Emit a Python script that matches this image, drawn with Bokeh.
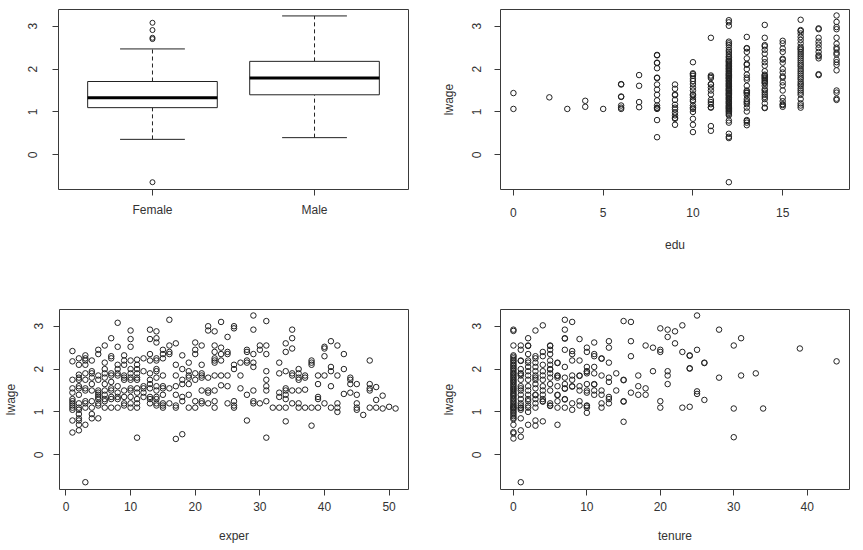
from bokeh.plotting import figure
from bokeh.layouts import column, row
from bokeh.models import Range1d, FixedTicker
from bokeh.embed import file_html
from bokeh.resources import INLINE

# ---------------- data ----------------
box_labels = ["Female", "Male"]
box_pos = [1, 2]
box_lo = [0.36, 0.40]
box_q1 = [1.10, 1.40]
box_med = [1.33, 1.79]
box_q3 = [1.71, 2.18]
box_hi = [2.47, 3.24]
out_group = [1, 1, 1, 1, 1]
out_lwage = [3.08, 2.91, 2.73, 2.70, -0.64]

lwage_by_edu = {
    0: [1.44, 1.07],
    2: [1.34],
    3: [1.07],
    4: [1.26, 1.12],
    5: [1.07],
    6: [1.65, 1.64, 1.36, 1.35, 1.15, 1.10, 1.07],
    7: [1.86, 1.61, 1.23, 1.11],
    8: [2.33, 2.32, 2.15, 2.14, 2.02, 1.80, 1.79, 1.64, 1.52, 1.40, 1.27, 1.15,
        1.10, 1.09, 1.07, 0.81, 0.41],
    9: [1.64, 1.54, 1.41, 1.39, 1.28, 1.17, 1.10, 1.06, 0.99, 0.92, 0.86, 0.84, 0.70],
    10: [2.16, 1.90, 1.88, 1.84, 1.77, 1.72, 1.65, 1.57, 1.50, 1.41, 1.39, 1.34,
         1.28, 1.25, 1.15, 1.10, 1.07, 1.00, 0.84, 0.70, 0.53],
    11: [2.73, 1.85, 1.82, 1.79, 1.65, 1.64, 1.57, 1.50, 1.41, 1.28, 1.23, 1.18,
         1.11, 1.10, 0.67, 0.56],
    12: [3.14, 3.09, 3.01, 2.64, 2.60, 2.56, 2.50, 2.44, 2.40, 2.35, 2.30, 2.27,
         2.23, 2.20, 2.18, 2.16, 2.13, 2.10, 2.08, 2.06, 2.03, 2.01, 1.99, 1.96,
         1.94, 1.91, 1.89, 1.87, 1.85, 1.83, 1.80, 1.79, 1.77, 1.74, 1.72, 1.70,
         1.67, 1.65, 1.63, 1.61, 1.59, 1.56, 1.54, 1.52, 1.50, 1.48, 1.45, 1.43,
         1.41, 1.39, 1.37, 1.34, 1.32, 1.30, 1.28, 1.25, 1.23, 1.21, 1.19, 1.16,
         1.14, 1.12, 1.10, 1.08, 1.06, 1.03, 1.01, 0.98, 0.95, 0.92, 0.80, 0.75,
         0.49, 0.42, 0.39, -0.64],
    13: [2.75, 2.49, 2.48, 2.40, 2.25, 2.12, 2.10, 2.00, 1.87, 1.80, 1.75, 1.61,
         1.50, 1.48, 1.45, 1.44, 1.39, 1.30, 1.25, 1.22, 1.18, 1.10, 1.01, 0.81,
         0.79, 0.75, 0.69],
    14: [3.03, 2.73, 2.56, 2.53, 2.45, 2.36, 2.24, 2.16, 2.08, 1.95, 1.87, 1.85,
         1.83, 1.80, 1.78, 1.75, 1.72, 1.69, 1.67, 1.61, 1.53, 1.50, 1.45, 1.40,
         1.35, 1.30, 1.20, 1.10, 1.09],
    15: [2.66, 2.60, 2.48, 2.40, 2.24, 2.22, 2.15, 2.00, 1.92, 1.83, 1.80, 1.69,
         1.62, 1.50, 1.33, 1.25, 1.18, 1.16, 1.12],
    16: [3.15, 2.91, 2.89, 2.83, 2.75, 2.68, 2.60, 2.52, 2.48, 2.45, 2.40, 2.35,
         2.30, 2.25, 2.20, 2.15, 2.10, 2.06, 2.00, 1.95, 1.90, 1.85, 1.80, 1.76,
         1.70, 1.65, 1.61, 1.55, 1.50, 1.45, 1.40, 1.30, 1.20, 1.15, 1.10],
    17: [2.95, 2.93, 2.73, 2.64, 2.57, 2.49, 2.40, 2.32, 2.30, 2.25, 1.88, 1.86],
    18: [3.25, 3.10, 2.98, 2.93, 2.73, 2.59, 2.50, 2.46, 2.38, 2.34, 2.22, 2.16,
         2.10, 1.97, 1.50, 1.45, 1.31, 1.28],
}

lwage_by_exper = {
    1: [2.42, 2.18, 1.75, 1.55, 1.45, 1.30, 1.25, 1.20, 1.15, 1.10, 1.05, 0.80, 0.52],
    2: [2.25, 2.10, 1.87, 1.80, 1.75, 1.60, 1.55, 1.40, 1.20, 1.10, 1.05, 0.95,
        0.85, 0.80, 0.70, 0.57],
    3: [2.32, 2.25, 2.20, 2.10, 1.90, 1.75, 1.55, 1.50, 1.25, 1.20, 1.10, 0.70, -0.64],
    4: [2.20, 1.95, 1.90, 1.80, 1.65, 1.50, 1.25, 1.10, 0.95, 0.85],
    5: [2.45, 2.35, 1.85, 1.75, 1.50, 1.45, 1.40, 1.35, 1.30, 1.20, 1.15, 0.85],
    6: [2.55, 2.15, 2.00, 1.90, 1.80, 1.65, 1.50, 1.40, 1.30, 1.25, 1.10],
    7: [2.72, 2.30, 2.25, 1.90, 1.85, 1.70, 1.55, 1.50, 1.35, 1.30, 1.10],
    8: [3.08, 2.52, 2.10, 2.00, 1.90, 1.85, 1.60, 1.45, 1.35, 1.30, 1.10],
    9: [2.32, 2.20, 2.10, 1.85, 1.80, 1.75, 1.50, 1.35, 1.20, 1.15],
    10: [2.90, 2.70, 2.52, 2.20, 2.00, 1.90, 1.80, 1.75, 1.55, 1.50, 1.35, 1.20, 1.10],
    11: [2.22, 2.10, 2.00, 1.90, 1.80, 1.75, 1.55, 1.45, 1.30, 1.20, 1.10, 0.40],
    12: [2.25, 1.95, 1.60, 1.55, 1.45, 1.35],
    13: [2.92, 2.70, 2.35, 2.20, 1.90, 1.75, 1.65, 1.55, 1.35, 1.30, 1.20],
    14: [2.88, 2.72, 2.62, 2.25, 2.20, 2.00, 1.95, 1.80, 1.60, 1.50, 1.35, 1.30,
         1.20, 1.15],
    15: [2.45, 2.35, 2.25, 1.85, 1.60, 1.55, 1.40, 1.20, 1.15, 1.10],
    16: [3.15, 2.55, 2.40, 2.35, 1.55, 1.20],
    17: [2.60, 2.10, 1.85, 1.60, 1.40, 1.15, 1.10, 0.37],
    18: [2.32, 2.00, 1.75, 1.65, 1.35, 1.25, 0.48],
    19: [2.15, 1.95, 1.85, 1.80, 1.65, 1.40, 1.10],
    20: [2.62, 2.45, 2.35, 1.90, 1.75, 1.25, 1.10],
    21: [2.55, 2.10, 1.90, 1.85, 1.80, 1.50, 1.25, 1.20],
    22: [3.00, 2.90, 1.80, 1.50, 1.45, 1.20],
    23: [2.88, 2.55, 2.40, 2.25, 2.20, 2.15, 1.85, 1.50, 1.25, 1.10],
    24: [3.10, 2.50, 2.35, 2.20, 1.85, 1.62],
    25: [2.75, 2.40, 2.35, 1.85, 1.60, 1.20],
    26: [3.00, 2.95, 2.10, 2.00, 1.25, 1.15, 1.10],
    27: [2.15, 1.85, 1.55],
    28: [2.45, 2.40, 2.20, 2.15, 1.40, 0.80],
    29: [3.25, 2.92, 2.35, 2.15, 2.05, 1.50, 1.25, 1.20],
    30: [2.55, 2.45, 1.20],
    31: [3.12, 2.55, 2.35, 1.95, 1.75, 1.60, 1.50, 1.25, 0.40],
    32: [1.10],
    33: [2.15, 1.90, 1.45, 1.35, 1.10],
    34: [2.60, 2.40, 1.95, 1.55, 1.50, 1.40, 1.30, 1.10, 0.78],
    35: [2.92, 2.72, 2.48, 1.90, 1.85, 1.50, 1.20],
    36: [2.00, 1.90, 1.80, 1.75, 1.50, 1.20, 1.10],
    37: [1.85, 1.80, 1.52, 1.10],
    38: [2.20, 2.15, 2.10, 1.10, 0.68],
    39: [1.85, 1.65, 1.35, 1.30, 1.10],
    40: [2.52, 2.48, 2.30, 1.85, 1.20],
    41: [2.65, 2.05, 1.95, 1.60, 1.10],
    42: [2.55, 1.85, 1.20, 1.10, 1.00],
    43: [2.35, 2.00, 1.42],
    44: [1.80, 1.75, 1.65, 1.45],
    45: [1.65, 1.40, 1.20, 1.10, 1.05],
    46: [0.93],
    47: [2.20, 1.65, 1.55, 1.50, 1.10],
    48: [1.58, 1.28, 1.10],
    49: [1.38, 1.08],
    50: [1.12],
    51: [1.08],
}

lwage_by_tenure = {
    0: [2.92, 2.89, 2.55, 2.32, 2.29, 2.25, 2.21, 2.18, 2.14, 2.10, 2.07, 2.03,
        2.00, 1.96, 1.92, 1.89, 1.86, 1.82, 1.79, 1.75, 1.72, 1.69, 1.65, 1.62,
        1.58, 1.55, 1.52, 1.49, 1.45, 1.42, 1.39, 1.36, 1.32, 1.29, 1.25, 1.22,
        1.18, 1.15, 1.12, 1.10, 1.08, 1.05, 1.01, 0.98, 0.94, 0.90, 0.86, 0.83,
        0.70, 0.53, 0.50, 0.38],
    1: [2.55, 2.45, 2.20, 2.19, 2.00, 1.90, 1.89, 1.85, 1.75, 1.60, 1.55, 1.50,
        1.40, 1.30, 1.20, 1.15, 1.10, 1.09, 1.05, 0.85, 0.57, 0.42, -0.64],
    2: [2.72, 2.55, 2.54, 2.35, 2.20, 2.15, 2.05, 1.95, 1.85, 1.75, 1.60, 1.50,
        1.40, 1.30, 1.25, 1.15, 1.10, 1.00, 0.70],
    3: [2.90, 2.30, 2.25, 2.15, 2.05, 1.95, 1.85, 1.80, 1.75, 1.65, 1.55, 1.40,
        1.39, 1.30, 1.20, 1.10, 0.80, 0.68],
    4: [3.02, 2.40, 2.30, 2.10, 1.95, 1.85, 1.75, 1.60, 1.50, 1.40, 1.30, 1.25,
        1.24, 0.78],
    5: [2.55, 2.54, 2.45, 2.35, 2.20, 2.10, 2.00, 1.99, 1.90, 1.80, 1.65, 1.50,
        1.20, 1.15, 1.14],
    6: [2.15, 2.14, 1.85, 1.84, 1.80, 1.60, 1.40, 1.39, 1.25, 1.10, 0.70],
    7: [3.15, 2.92, 2.72, 2.71, 2.45, 2.05, 1.80, 1.65, 1.55, 1.54, 1.30, 1.29, 1.10],
    8: [3.10, 2.42, 2.35, 2.20, 1.85, 1.75, 1.60, 1.59, 1.20, 1.05],
    9: [2.70, 2.20, 1.85, 1.84, 1.60, 1.50, 1.25, 1.15],
    10: [2.50, 2.40, 2.05, 1.95, 1.94, 1.90, 1.65, 1.50, 1.45, 1.15, 1.14, 1.10, 0.98],
    11: [2.62, 2.35, 2.30, 2.05, 1.90, 1.65, 1.64, 1.50, 1.40],
    12: [2.25, 2.24, 1.85, 1.50, 1.40, 1.20, 1.10],
    13: [2.65, 2.50, 2.15, 1.80, 1.70, 1.35, 1.30, 1.20],
    14: [1.90, 1.50],
    15: [3.12, 1.75, 1.74, 1.25, 1.24, 0.77],
    16: [3.10, 2.65, 2.30, 1.45],
    17: [1.85, 1.60, 1.40],
    18: [2.55, 1.55, 1.40],
    19: [2.50, 1.95],
    20: [2.95, 2.45, 2.40, 1.25, 1.10],
    21: [2.92, 2.75, 1.95, 1.85, 1.65],
    22: [2.88, 2.60],
    23: [3.02, 2.40, 1.10],
    24: [2.32, 2.31, 2.02, 2.01, 1.12],
    25: [3.25, 2.45, 1.48, 1.42],
    26: [2.15, 2.14, 1.28],
    28: [2.92, 1.80],
    30: [2.55, 1.08, 0.41],
    31: [2.72, 1.85],
    33: [1.90],
    34: [1.08],
    39: [2.48],
    44: [2.18],
}

y_ticks = [0, 1, 2, 3]
edu_ticks = [0, 5, 10, 15]
exper_ticks = [0, 10, 20, 30, 40, 50]
tenure_ticks = [0, 10, 20, 30, 40]


def flatten(d):
    xs, ys = [], []
    for k, vals in d.items():
        xs += [k] * len(vals)
        ys += vals
    return xs, ys


FONT = "Liberation Sans"
TXT = "#333333"
LINE = "#3a3a3a"
PT = "#222222"


def make_fig(width, height, bl, br, bt, bb, xr, xticks, xlabel, ylabel,
             x_lab_so, x_axlab_so, y_lab_so, y_axlab_so):
    p = figure(width=width, height=height, output_backend="svg",
               toolbar_location=None, min_border_left=bl, min_border_right=br,
               min_border_top=bt, min_border_bottom=bb,
               x_range=Range1d(*xr), y_range=Range1d(-0.81, 3.39))
    p.grid.visible = False
    p.outline_line_color = LINE
    p.outline_line_width = 1
    p.outline_line_alpha = 1
    p.background_fill_color = "white"
    p.border_fill_color = "white"
    for ax in (p.xaxis[0], p.yaxis[0]):
        ax.axis_line_color = None
        ax.major_tick_line_color = LINE
        ax.major_tick_out = 6
        ax.major_tick_in = 0
        ax.minor_tick_line_color = None
        ax.major_label_text_font = FONT
        ax.major_label_text_font_size = "12px"
        ax.major_label_text_color = TXT
        ax.axis_label_text_font = FONT
        ax.axis_label_text_font_size = "12px"
        ax.axis_label_text_font_style = "normal"
        ax.axis_label_text_color = TXT
    p.xaxis[0].ticker = FixedTicker(ticks=xticks)
    p.yaxis[0].ticker = FixedTicker(ticks=y_ticks)
    p.yaxis[0].major_label_orientation = "vertical"
    p.xaxis[0].major_label_standoff = x_lab_so
    p.yaxis[0].major_label_standoff = y_lab_so
    if xlabel:
        p.xaxis[0].axis_label = xlabel
        p.xaxis[0].axis_label_standoff = x_axlab_so
    if ylabel:
        p.yaxis[0].axis_label = ylabel
        p.yaxis[0].axis_label_standoff = y_axlab_so
    return p


# ---- panel 1: boxplot ----
p1 = make_fig(430, 290, 58, 22, 9, 101, (0.42, 2.58), box_pos, None, None,
              7, 0, 15, 0)
p1.xaxis[0].major_label_overrides = {b: lab for b, lab in zip(box_pos, box_labels)}
hw, sw = 0.4, 0.2
# whiskers (dashed)
p1.segment(x0=box_pos, y0=box_q3, x1=box_pos, y1=box_hi, line_color=PT,
           line_width=1, line_dash="4 3")
p1.segment(x0=box_pos, y0=box_lo, x1=box_pos, y1=box_q1, line_color=PT,
           line_width=1, line_dash="4 3")
# staples
p1.segment(x0=[b - sw for b in box_pos], y0=box_hi, x1=[b + sw for b in box_pos],
           y1=box_hi, line_color=PT, line_width=1)
p1.segment(x0=[b - sw for b in box_pos], y0=box_lo, x1=[b + sw for b in box_pos],
           y1=box_lo, line_color=PT, line_width=1)
# boxes
p1.quad(left=[b - hw for b in box_pos], right=[b + hw for b in box_pos],
        bottom=box_q1, top=box_q3, fill_color="white", line_color=PT, line_width=1)
# medians
p1.segment(x0=[b - hw for b in box_pos], y0=box_med, x1=[b + hw for b in box_pos],
           y1=box_med, line_color="black", line_width=3)
# outliers
p1.scatter(out_group, out_lwage, marker="circle", size=5, fill_color=None,
           line_color=PT, line_width=1)

# ---- panel 2: edu ----
p2 = make_fig(423, 290, 70, 4, 9, 101, (-0.72, 18.72), edu_ticks, "edu", "lwage",
              12, 18, 13, 14)
ex, ey = flatten(lwage_by_edu)
p2.scatter(ex, ey, marker="circle", size=5.5, fill_color=None, line_color=PT,
           line_width=1)

# ---- panel 3: exper ----
p3 = make_fig(430, 257, 58, 22, 19, 58, (-1.0, 53.0), exper_ticks, "exper", "lwage",
              6, 15, 10, 14)
xx, xy = flatten(lwage_by_exper)
p3.scatter(xx, xy, marker="circle", size=5.5, fill_color=None, line_color=PT,
           line_width=1)

# ---- panel 4: tenure ----
p4 = make_fig(423, 257, 70, 4, 19, 58, (-1.76, 45.76), tenure_ticks, "tenure",
              "lwage", 6, 15, 13, 14)
tx, ty = flatten(lwage_by_tenure)
p4.scatter(tx, ty, marker="circle", size=5.5, fill_color=None, line_color=PT,
           line_width=1)

layout = column(row(p1, p2), row(p3, p4))
open("out.html", "w").write(file_html(layout, INLINE))
